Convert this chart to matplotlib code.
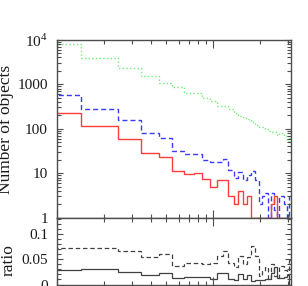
import numpy as np
import matplotlib
matplotlib.use('Agg')
import matplotlib.pyplot as plt
from matplotlib.ticker import LogLocator, MultipleLocator, FuncFormatter, NullFormatter

plt.rcParams['font.family'] = 'serif'
plt.rcParams['font.serif'] = ['Liberation Serif', 'DejaVu Serif']
plt.rcParams['mathtext.fontset'] = 'custom'
plt.rcParams['mathtext.rm'] = 'Liberation Serif'

# member count per bin (one bin per integer)
n_members = np.arange(1, 32)

# green dotted: all objects
n_all = [8040, 3890, 2317, 1500, 1040, 850, 633, 633, 480, 420,
         316, 316, 281, 225, 190, 173, 165, 145, 122, 112,
         112, 99, 90, 84, 84, 73, 80, 80, 67, 53, 61]
# blue dashed
n_dashed = [580, 281, 156, 82, 63, 32, 27, 27, 20, 18,
            18, 21, 12, 7.7, 10.9, 7, 9, 11, 7, 2,
            3, 3.5, 1, 3.5, 1.5, 1, 3, 3, 2, 1, 3]
# red solid
n_solid = [225, 118, 60, 28, 23.7, 11, 9.5, 10, 7.4, 5,
           7.1, 7.1, 3, 2, 4, 2, 3, 1, 1, 1,
           1, 1, 1, 2, 3, 1, 1, 1, 1, 1, 0]

n_all = np.array(n_all, dtype=float)
n_dashed = np.array(n_dashed, dtype=float)
n_solid = np.array(n_solid, dtype=float)
ratio_dashed = n_dashed / n_all
ratio_solid = n_solid / n_all

# bin edges halfway (in log) between neighbouring integers
k = np.arange(0, len(n_members) + 1)
edges = np.sqrt(k * (k + 1.0))
edges[0] = 0.5

axc = '0.3'
fig = plt.figure(figsize=(3.08, 2.86), dpi=100)
ax1 = fig.add_axes([0.185, 0.2388, 0.761, 0.6224])
ax2 = fig.add_axes([0.185, 0.0052, 0.761, 0.2336])

ax1.stairs(n_all, edges, baseline=None, color='#6fee6f', ls=':', lw=1.0)
ax1.stairs(n_dashed, edges, baseline=None, color='#3a3aff', lw=1.0,
           ls=(0, (3.6, 2.2)))
ax1.stairs(n_solid, edges, baseline=None, color='#ff3c3c', lw=1.0)

ax2.stairs(ratio_dashed, edges, baseline=None, color='0.25', lw=0.9,
           ls=(0, (3.6, 2.2)))
ax2.stairs(ratio_solid, edges, baseline=None, color='0.25', lw=0.9)

for ax in (ax1, ax2):
    ax.set_xscale('log')
    ax.set_xlim(1, 31.6)
    ax.xaxis.set_major_locator(LogLocator(base=10))
    ax.xaxis.set_minor_locator(LogLocator(base=10, subs=np.arange(2, 10)))
    ax.xaxis.set_major_formatter(NullFormatter())
    ax.xaxis.set_minor_formatter(NullFormatter())
    for s in ax.spines.values():
        s.set_color(axc)
        s.set_linewidth(1.0)
    ax.tick_params(which='both', direction='in', top=True, right=True,
                   color=axc, width=0.8, labelsize=11, labelcolor='0.1')
    ax.tick_params(axis='x', which='major', length=5.5)
    ax.tick_params(axis='x', which='minor', length=2.8)
    ax.tick_params(axis='y', which='major', length=4.5, pad=6.5)
    ax.tick_params(axis='y', which='minor', length=2.8)

ax1.set_yscale('log')
ax1.set_ylim(1, 1e4)
ax1.yaxis.set_major_locator(LogLocator(base=10))
ax1.yaxis.set_minor_locator(LogLocator(base=10, subs=np.arange(2, 10)))
ax1.yaxis.set_minor_formatter(NullFormatter())
ax1.yaxis.set_major_formatter(
    FuncFormatter(lambda v, p: r'10$^4$' if v >= 1e4 else f'{v:g}'))

ax2.set_ylim(0, 0.133)
ax2.yaxis.set_major_locator(MultipleLocator(0.05))
ax2.yaxis.set_minor_locator(MultipleLocator(0.01))
ax2.yaxis.set_major_formatter(FuncFormatter(lambda v, p: f'{v:g}'))

fig.text(0.019, 0.549, 'Number of objects', rotation=90, ha='center',
         va='center', fontsize=12.5, color='0.1')
fig.text(0.027, 0.091, 'ratio', rotation=90, ha='center', va='center',
         fontsize=12.5, color='0.1')

fig.savefig('out.png', dpi=100)
